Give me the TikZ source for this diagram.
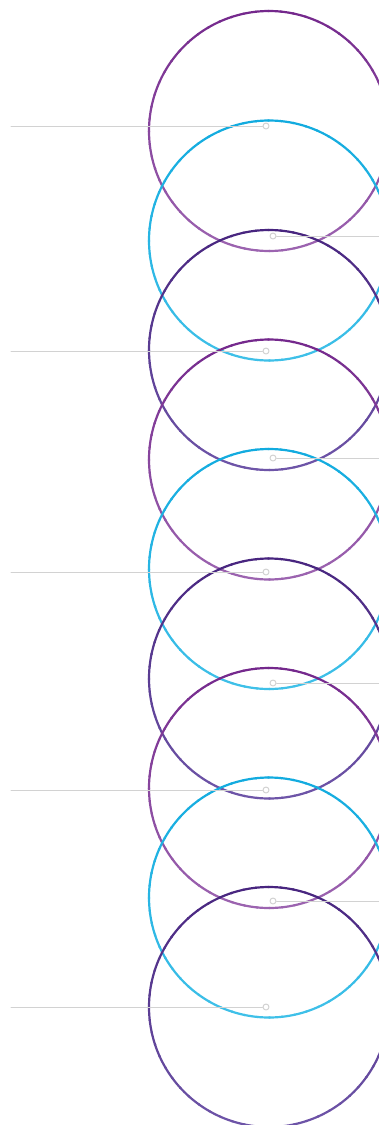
\documentclass[tikz,border=0pt]{standalone}
\usetikzlibrary{positioning}
\definecolor{plum}{HTML}{74288C}
\definecolor{plumlt}{HTML}{9C64B0}
\definecolor{sky}{HTML}{12ABDF}
\definecolor{skylt}{HTML}{3FC0E8}
\definecolor{indigo}{HTML}{48257F}
\definecolor{indigolt}{HTML}{6E55A8}
\definecolor{leadgray}{HTML}{D2D2D2}
\tikzset{
  every picture/.style={line cap=round, line join=round},
  % Ringe
  ring/.style={line width=2.2pt},
  % Leitlinien mit Endpunkt
  lead/.style={leadgray, line width=1pt},
  pin/.style={circle, draw=leadgray, fill=white, line width=1pt, inner sep=0pt, minimum size=6pt},
}
% Ring mit Farbverlauf von oben (#2) nach unten (#3)
\newcommand{\gradring}[3]{%
  \foreach \a in {0,6,...,354} {
    \pgfmathsetmacro\t{50*(1+sin(\a+3))}
    \draw[ring, draw=#2!\t!#3] (#1) ++(\a:120pt) arc[start angle=\a, end angle=\a+6.5, radius=120pt];
  }}

\begin{document}
\begin{tikzpicture}[x=1pt, y=-1pt]
  \useasboundingbox (0,0) rectangle (379,1125);
  \clip (0,0) rectangle (379,1125);
  % Ringe
  \foreach \i/\top/\bot in {0/plum/plumlt, 1/sky/skylt, 2/indigo/indigolt,
                            3/plum/plumlt, 4/sky/skylt, 5/indigo/indigolt,
                            6/plum/plumlt, 7/sky/skylt, 8/indigo/indigolt} {
    \coordinate (c\i) at (269,131+109.5*\i);
    \gradring{c\i}{\top}{\bot}
  }
  % Leitlinien links
  \foreach \y [count=\k] in {126,351,572,790,1007} {
    \coordinate (l\k) at (11,\y);
    \node[pin] (pl\k) at (266,\y) {};
    \draw[lead] (l\k) -- (pl\k);
  }
  % Leitlinien rechts
  \foreach \y [count=\k] in {236,458,683,901} {
    \node[pin] (pr\k) at (273,\y) {};
    \coordinate (r\k) at (379,\y);
    \draw[lead] (pr\k) -- (r\k);
  }
\end{tikzpicture}
\end{document}
